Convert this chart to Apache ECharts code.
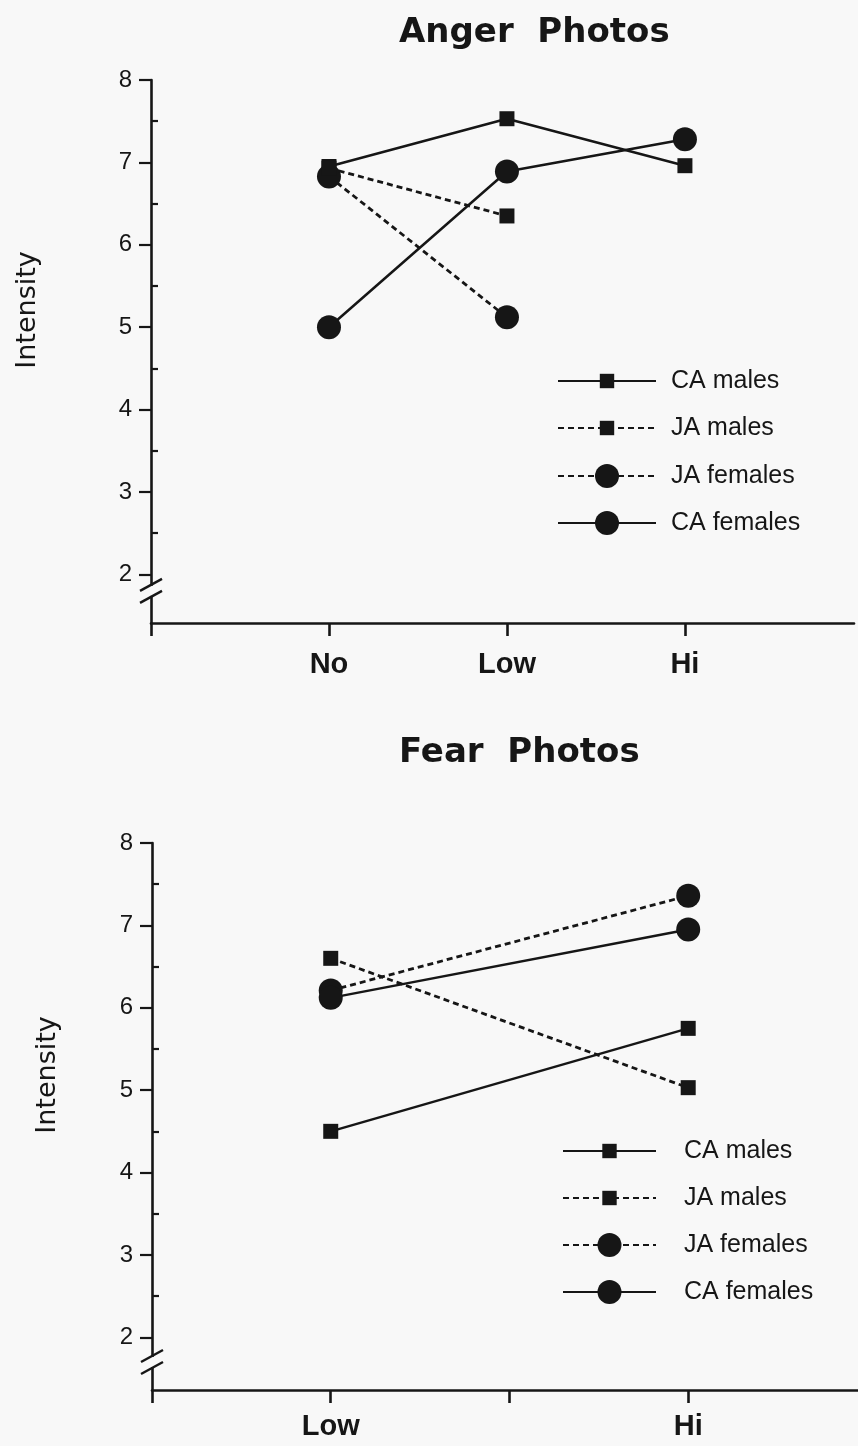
<!DOCTYPE html>
<html>
<head>
<meta charset="utf-8">
<script src="https://cdn.jsdelivr.net/npm/echarts@6/dist/echarts.min.js"></script>
<style>
html,body{margin:0;padding:0;background:#f8f8f8;}
#c{width:858px;height:1446px;}
</style>
</head>
<body>
<div id="c"></div>
<script>
// ---- data ----
const seriesNames = ['CA males', 'JA males', 'JA females', 'CA females'];
const angerTicks = ['', 'No', 'Low', 'Hi'];
const angerCats = ['No', 'Low', 'Hi'];
const angerCAmales   = [6.95, 7.53, 6.96];
const angerJAmales   = [6.93, 6.35, null];
const angerJAfemales = [6.83, 5.12, null];
const angerCAfemales = [5.0, 6.89, 7.28];

const fearTicks = ['', 'Low', '', 'Hi'];
const fearCats = ['Low', 'Hi'];
const fearCAmales   = [4.50, 5.75];
const fearJAmales   = [6.60, 5.03];
const fearJAfemales = [6.21, 7.36];
const fearCAfemales = [6.12, 6.95];

const yLabelValues = [2, 3, 4, 5, 6, 7, 8];
const yMinorValues = [2.5, 3.5, 4.5, 5.5, 6.5, 7.5];

// ---- styles ----
const INK = '#161616';
const BG = '#f8f8f8';
const styles = {
  'CA males':   {symbol: 'rect',   size: 15, type: 'solid', width: 2.5},
  'JA males':   {symbol: 'rect',   size: 15, type: [6, 4], width: 2.8},
  'JA females': {symbol: 'circle', size: 24, type: [6, 4], width: 2.8},
  'CA females': {symbol: 'circle', size: 24, type: 'solid', width: 2.5}
};

function pts(ticks, cats, vals) {
  return cats.map((c, i) => vals[i] == null ? null : [ticks.indexOf(c), vals[i]]).filter(p => p);
}
function mkSeries(name, gi, data) {
  const s = styles[name];
  return {
    name: name, type: 'line', xAxisIndex: gi, yAxisIndex: gi * 2,
    data: data, symbol: s.symbol, symbolSize: s.size, showSymbol: true,
    lineStyle: {color: INK, width: s.width, type: s.type},
    itemStyle: {color: INK, borderWidth: 0},
    z: s.symbol === 'circle' ? 3 : 4,
    animation: false
  };
}

const grids = [
  {left: 151, right: 4, top: 80, height: 543},
  {left: 152, right: 0, top: 843, height: 547}
];
const yMins = [1.41, 1.36];
const xMargins = [27, 22];

function xAxis(gi, ticks) {
  return {
    type: 'value', gridIndex: gi, min: 0, max: 3.95,
    axisLine: {show: true, onZero: false, lineStyle: {color: INK, width: 2.6}},
    axisTick: {show: true, length: 13, customValues: [0, 1, 2, 3], lineStyle: {color: INK, width: 2.6}},
    axisLabel: {
      customValues: [1, 2, 3], margin: xMargins[gi],
      formatter: v => ticks[Math.round(v)] || '',
      color: INK, fontFamily: 'Liberation Sans, Arial, sans-serif', fontWeight: 'bold', fontSize: 29
    },
    splitLine: {show: false}
  };
}
function yAxes(gi) {
  return [{
    type: 'value', gridIndex: gi, min: yMins[gi], max: 8,
    axisLine: {show: true, onZero: false, lineStyle: {color: INK, width: 2.6}},
    axisTick: {show: true, length: 12, customValues: yLabelValues, lineStyle: {color: INK, width: 2.2}},
    axisLabel: {customValues: yLabelValues, margin: 19, color: INK,
      fontFamily: 'Liberation Sans, Arial, sans-serif', fontSize: 24},
    splitLine: {show: false}
  }, {
    type: 'value', gridIndex: gi, min: yMins[gi], max: 8,
    axisLine: {show: false},
    axisTick: {show: true, length: 7, customValues: yMinorValues, lineStyle: {color: INK, width: 2.2}},
    axisLabel: {show: false},
    splitLine: {show: false}
  }];
}

const legendText = (pad) => ({color: INK, fontFamily: 'Liberation Sans, Arial, sans-serif', fontSize: 25,
  lineHeight: 26, padding: [0, 0, 0, pad]});

const option = {
  backgroundColor: BG,
  animation: false,
  title: [
    {text: 'Anger  Photos', left: 394, top: 11,
      textStyle: {color: INK, fontFamily: 'DejaVu Sans', fontWeight: 'bold', fontSize: 34}},
    {text: 'Fear  Photos', left: 394, top: 731,
      textStyle: {color: INK, fontFamily: 'DejaVu Sans', fontWeight: 'bold', fontSize: 34}}
  ],
  legend: [
    {data: ['CA males', 'JA males'], orient: 'vertical', left: 557, top: 368, padding: 0, itemWidth: 98, itemHeight: 18,
      itemGap: 21, textStyle: legendText(10), selectedMode: false},
    {data: ['JA females', 'CA females'], orient: 'vertical', left: 557, top: 463, padding: 0, itemWidth: 98, itemHeight: 30,
      itemGap: 21, textStyle: legendText(10), selectedMode: false},
    {data: ['CA males', 'JA males'], orient: 'vertical', left: 562, top: 1138, padding: 0, itemWidth: 93, itemHeight: 18,
      itemGap: 21, textStyle: legendText(23), selectedMode: false},
    {data: ['JA females', 'CA females'], orient: 'vertical', left: 562, top: 1232, padding: 0, itemWidth: 93, itemHeight: 30,
      itemGap: 21, textStyle: legendText(23), selectedMode: false}
  ],
  grid: grids,
  xAxis: [xAxis(0, angerTicks), xAxis(1, fearTicks)],
  yAxis: [...yAxes(0), ...yAxes(1)],
  series: [
    mkSeries('CA males', 0, pts(angerTicks, angerCats, angerCAmales)),
    mkSeries('JA males', 0, pts(angerTicks, angerCats, angerJAmales)),
    mkSeries('JA females', 0, pts(angerTicks, angerCats, angerJAfemales)),
    mkSeries('CA females', 0, pts(angerTicks, angerCats, angerCAfemales)),
    mkSeries('CA males', 1, pts(fearTicks, fearCats, fearCAmales)),
    mkSeries('JA males', 1, pts(fearTicks, fearCats, fearJAmales)),
    mkSeries('JA females', 1, pts(fearTicks, fearCats, fearJAfemales)),
    mkSeries('CA females', 1, pts(fearTicks, fearCats, fearCAfemales))
  ]
};

const chart = echarts.init(document.getElementById('c'), null, {renderer: 'canvas'});
chart.setOption(option);

// axis break marks and rotated axis titles
const breakVals = [1.8, 1.7];
const graphics = [];
[0, 1].forEach(gi => {
  const p = chart.convertToPixel({xAxisIndex: gi, yAxisIndex: gi * 2}, [0, breakVals[gi]]);
  const ax = p[0], cy = p[1];
  graphics.push({type: 'rect', shape: {x: ax - 4, y: cy - 5, width: 8, height: 10},
    style: {fill: BG}, z: 100});
  [-6, 6].forEach(d => {
    graphics.push({type: 'line', shape: {x1: ax - 11, y1: cy + d + 6, x2: ax + 11, y2: cy + d - 6},
      style: {stroke: INK, lineWidth: 2.4}, z: 101});
  });
});
graphics.push({type: 'text', x: 28, y: 310, rotation: Math.PI / 2,
  style: {text: 'Intensity', fill: INK, font: '27px "DejaVu Sans"', textAlign: 'center', textVerticalAlign: 'middle'}});
graphics.push({type: 'text', x: 48, y: 1075, rotation: Math.PI / 2,
  style: {text: 'Intensity', fill: INK, font: '27px "DejaVu Sans"', textAlign: 'center', textVerticalAlign: 'middle'}});
chart.setOption({graphic: graphics});
</script>
</body>
</html>
